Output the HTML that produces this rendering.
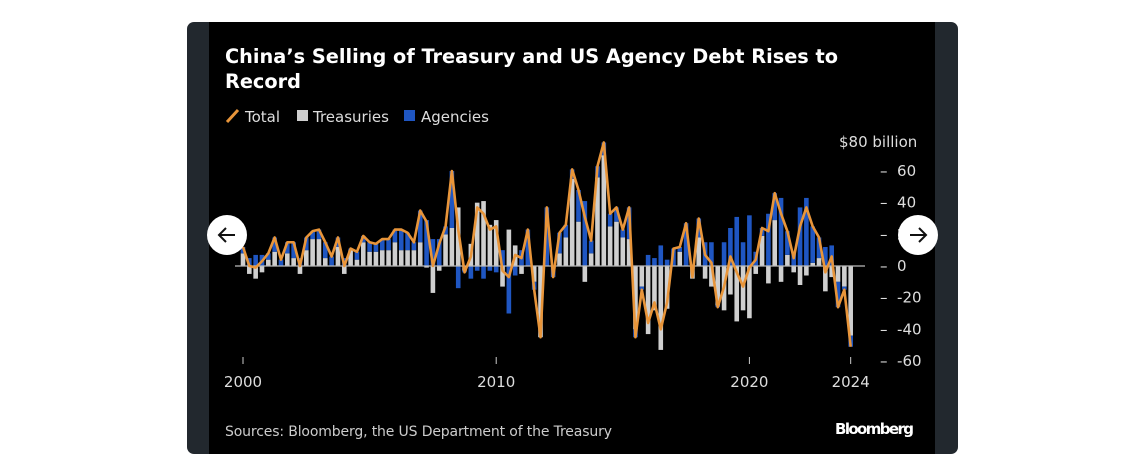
<!DOCTYPE html>
<html><head><meta charset="utf-8"><style>
body{margin:0;width:1121px;height:455px;background:#fff;overflow:hidden;font-family:"DejaVu Sans","Liberation Sans",sans-serif}
#card{position:absolute;left:187px;top:22px;width:771px;height:432px;background:#22282e;border-radius:7px;overflow:hidden}
#panel{position:absolute;left:22px;top:0;width:726px;height:432px;background:#000}
.nav{position:absolute;width:40px;height:40px;border-radius:50%;background:#fff;top:215px}
</style></head><body>
<div id="card">
<div id="panel"></div>
</div>
<svg width="1121" height="455" style="position:absolute;left:0;top:0" id="chart">
<text x="225" y="63" fill="#fff" font-size="19.3" font-weight="bold" textLength="613">China’s Selling of Treasury and US Agency Debt Rises to</text>
<text x="225" y="88" fill="#fff" font-size="19.3" font-weight="bold">Record</text>
<g font-size="15" fill="#ddd">
<line x1="227" y1="122" x2="238" y2="110" stroke="#e8953a" stroke-width="3"/>
<text x="245" y="122">Total</text>
<rect x="297" y="110" width="11" height="11" fill="#cfcfcf"/>
<text x="313" y="122">Treasuries</text>
<rect x="404" y="110" width="11" height="11" fill="#1f56c2"/>
<text x="421" y="122">Agencies</text>
</g>
<text x="839" y="147" fill="#ddd" font-size="15">$80 billion</text>
<g id="plot"></g>
<text x="225" y="436" fill="#ccc" font-size="14" textLength="387">Sources: Bloomberg, the US Department of the Treasury</text>
<text x="835" y="434" fill="#fff" font-size="15" font-weight="bold" textLength="79">Bloomberg</text>
</svg>
<div class="nav" style="left:207px"><svg width="40" height="40"><path d="M28 20H12M19 13l-7 7 7 7" stroke="#111" stroke-width="2" fill="none"/></svg></div>
<div class="nav" style="left:898px"><svg width="40" height="40"><path d="M12 20h16M21 13l7 7-7 7" stroke="#111" stroke-width="2" fill="none"/></svg></div>
<script>
const totals=[12,0,-1,3,8,18,4,15,15,0,18,22,23,15,6,18,0,11,9,19,15,14,17,17,23,23,21,15,35,28,0,14,25,60,23,-4,6,37,33,23,25,-3,-7,7,5,23,-15,-45,37,-7,21,26,61,48,31,16,63,78,33,37,23,37,-45,-15,-36,-23,-40,-23,11,12,27,-7,30,7,2,-26,-13,6,-4,-13,-1,4,24,22,46,33,22,5,25,37,25,18,-4,6,-26,-15,-51];
const treasuries=[8,-5,-8,-4,4,9,0,8,5,-5,10,17,17,5,0,12,-5,10,4,15,9,9,10,10,15,10,10,10,15,-1,-17,-3,20,24,37,-3,14,40,41,26,29,-13,23,13,-5,0,-10,-45,0,0,8,18,55,28,-10,8,56,70,25,28,18,17,-40,-13,-43,-28,-53,-27,0,9,0,-8,18,-8,-13,-25,-28,-18,-35,-28,-33,-5,19,-11,29,-10,7,-4,-12,-6,2,5,-16,-7,-10,-13,-44];
const agencies=totals.map((t,i)=>t-treasuries[i]);
const yTicks=[60,40,20,0,-20,-40,-60];
const xTickYears=[2000,2010,2020,2024];
const x0=243,dx=6.33;
function xq(i){return x0+dx*i;}
function xy(year){return x0+(year-2000)*4*dx;}
function yv(v){return 266-v*95/60;}
const NS="http://www.w3.org/2000/svg";
const g=document.getElementById('plot');
function mk(tag,attrs){const e=document.createElementNS(NS,tag);for(const k in attrs)e.setAttribute(k,attrs[k]);g.appendChild(e);return e;}
const bw=4.6;
totals.forEach((t,i)=>{
  let pos=0,neg=0;
  [[treasuries[i],'#cfcfcf','bar-treasuries'],[agencies[i],'#1f56c2','bar-agencies']].forEach(([v,c,n])=>{
    let a,b;
    if(v>=0){a=pos;b=pos+v;pos=b;}else{a=neg;b=neg+v;neg=b;}
    const r=mk('rect',{x:xq(i)-bw/2,y:Math.min(yv(a),yv(b)),width:bw,height:Math.abs(yv(a)-yv(b)),fill:c});
    
    
  });
});
const zl=mk('line',{x1:235,x2:865,y1:yv(0),y2:yv(0),stroke:'#bbb','stroke-width':1.2});


const path=mk('path',{d:totals.map((t,i)=>(i?'L':'M')+xq(i)+' '+yv(t)).join(''),fill:'none',stroke:'#e8953a','stroke-width':2.6,'stroke-linejoin':'round'});


yTicks.forEach(v=>{
  const t=mk('text',{x:880,y:yv(v)+5,fill:'#ddd','font-size':15});
  t.textContent='–  '+v;
  t.style.whiteSpace='pre';
  
  
});
xTickYears.forEach(y=>{
  const l=mk('line',{x1:xy(y),x2:xy(y),y1:357,y2:364,stroke:'#ccc','stroke-width':1});
  
  
  const t=mk('text',{x:xy(y),y:387,fill:'#ddd','font-size':15,'text-anchor':'middle'});
  t.textContent=y;
  
  
});
</script>
</body></html>
